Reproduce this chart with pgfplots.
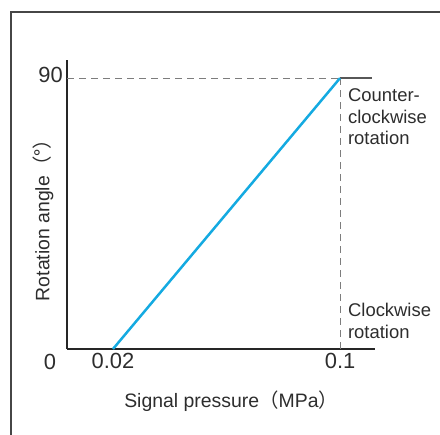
\documentclass[border=0pt]{standalone}
\usepackage{fontspec}
\setmainfont{Liberation Sans}
\newfontfamily\cjk{Noto Sans CJK JP}
\usepackage{pgfplots}
\pgfplotsset{compat=1.18}
\definecolor{lineblue}{RGB}{20,170,225}
\definecolor{dashgray}{RGB}{125,125,125}
\definecolor{framegray}{RGB}{70,70,70}
\definecolor{txt}{RGB}{45,45,45}
\begin{document}
\begin{tikzpicture}[x=1bp,y=1bp]
\useasboundingbox (-67,-86) rectangle (373,349);
\draw[framegray, line width=1.2bp] (-56,-86) -- (-56,337) -- (373,337);
\begin{axis}[
  at={(0,0)}, anchor=south west,
  scale only axis, width=308bp, height=289bp,
  xmin=0.0038, xmax=0.1123, ymin=0, ymax=96,
  axis lines=left, axis line style={-, line width=1.5bp, black!85},
  xtick={0.02,0.1}, xticklabels={0.02,0.1},
  ytick={90}, yticklabels={90},
  major tick length=0pt,
  tick label style={font=\fontsize{22}{26}\selectfont, text=txt},
  xticklabel style={inner sep=0pt, yshift=-4bp},
  yticklabel style={inner sep=0pt, xshift=-4bp, yshift=3bp},
  clip=false,
  xlabel={Signal pressure{\cjk （}MPa{\cjk ）}},
  ylabel={Rotation angle{\cjk （°）}},
  label style={font=\fontsize{19.5}{22}\selectfont, text=txt},
  xlabel style={at={(rel axis cs:0.533,-0.204)}, anchor=base},
  ylabel style={at={(rel axis cs:-0.078,0.462)}, anchor=center},
]
\addplot[dashgray, dash pattern=on 7bp off 5bp, line width=1bp] coordinates {(0.0038,90) (0.1,90)};
\addplot[dashgray, dash pattern=on 7bp off 5bp, line width=1bp] coordinates {(0.1,0) (0.1,90)};
\addplot[dashgray!70!black, line width=1.3bp] coordinates {(0.1,90) (0.1113,90)};
\addplot[lineblue, line width=2.5bp] coordinates {(0.02,0) (0.1,90)};
\node[font=\fontsize{22}{26}\selectfont, text=txt, inner sep=0pt, anchor=center] at (rel axis cs:-0.055,-0.045) {0};
\node[font=\fontsize{18.5}{22}\selectfont, text=txt, inner sep=0pt, anchor=north west, align=left] at (rel axis cs:0.912,0.903) {Counter-\\clockwise\\rotation};
\node[font=\fontsize{18.5}{22}\selectfont, text=txt, inner sep=0pt, anchor=north west, align=left] at (rel axis cs:0.912,0.159) {Clockwise\\rotation};
\end{axis}
\end{tikzpicture}
\end{document}
